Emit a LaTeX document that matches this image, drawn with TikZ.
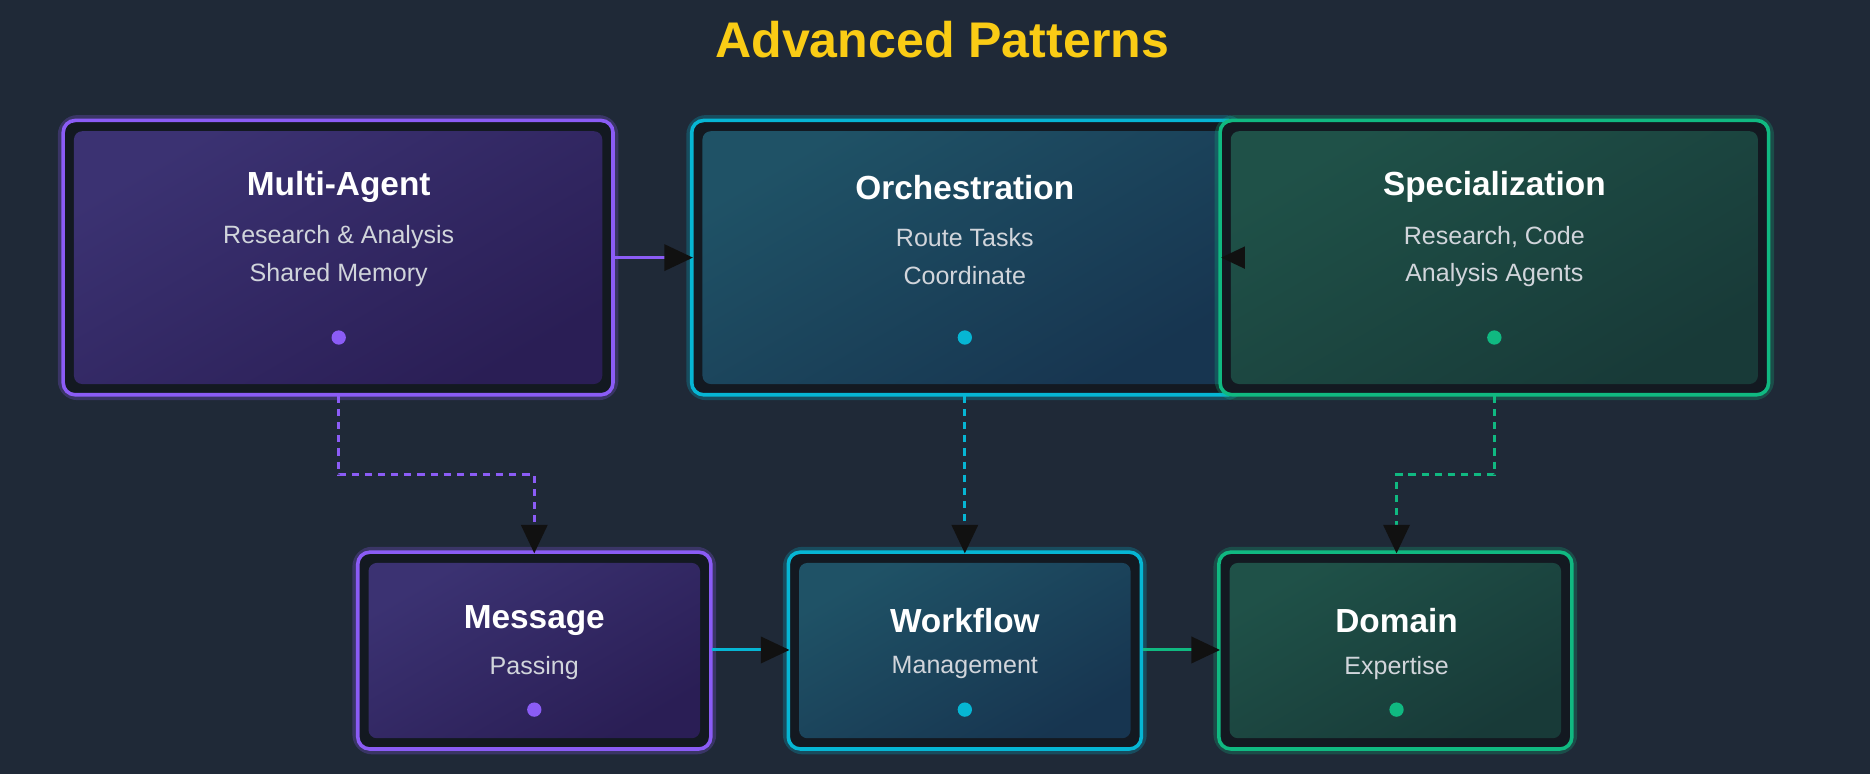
\documentclass[tikz,border=0pt]{standalone}
\usepackage{fontspec}
\setmainfont{Liberation Sans}
\usetikzlibrary{arrows.meta}
\definecolor{bg}{HTML}{1F2937}
\definecolor{ttl}{HTML}{FACC15}
\definecolor{pur}{HTML}{8B5CF6}
\definecolor{cya}{HTML}{06B6D4}
\definecolor{grn}{HTML}{10B981}
\definecolor{pA}{HTML}{3B3272}\definecolor{pB}{HTML}{2A1E55}
\definecolor{cA}{HTML}{1F5266}\definecolor{cB}{HTML}{173550}
\definecolor{gA}{HTML}{1F5148}\definecolor{gB}{HTML}{183A38}
\definecolor{txt}{HTML}{D1D5DB}
\definecolor{tip}{HTML}{111111}
\tikzset{
 box/.style n args={3}{draw=#1,line width=3pt,rounded corners=10pt,fill=bg!70!black,
   postaction={},},
 tt/.style={font=\bfseries\fontsize{28}{32}\selectfont,text=white},
 st/.style={font=\fontsize{21}{25}\selectfont,text=txt},
 ar/.style={line width=2.5pt,-{Triangle[length=24pt,width=22pt,fill=tip,color=tip]}},
 da/.style={ar,dash pattern=on 6pt off 5pt},
}
\newcommand\mybox[8]{% name x1 y1 x2 y2 border colA colB
 \draw[#6,opacity=0.25,line width=9pt,rounded corners=12pt] (#2,#3) rectangle (#4,#5);
 \path[rounded corners=10pt,fill=bg!60!black] (#2,#3) rectangle (#4,#5);
 \shade[rounded corners=7pt,top color=#7,bottom color=#8,shading angle=30] ($(#2,#3)+(9,9)$) rectangle ($(#4,#5)+(-9,-9)$);
 \draw[#6,line width=3pt,rounded corners=10pt] (#2,#3) rectangle (#4,#5);
 \coordinate (#1) at ({(#2+#4)/2},{(#3+#5)/2});
}
\usetikzlibrary{calc}
\begin{document}
\begin{tikzpicture}[x=1pt,y=-1pt]
\fill[bg] (0,0) rectangle (1568,649);
\useasboundingbox (0,0) rectangle (1568,649);
\node[font=\bfseries\fontsize{42}{46}\selectfont,text=ttl] (title) at (790,33) {Advanced Patterns};

\mybox{ma}{53}{101}{514}{331}{pur}{pA}{pB}
\mybox{or}{580}{101}{1040}{331}{cya}{cA}{cB}
\mybox{sp}{1023}{101}{1483}{331}{grn}{gA}{gB}
\mybox{me}{300}{463}{596}{628}{pur}{pA}{pB}
\mybox{wf}{661}{463}{957}{628}{cya}{cA}{cB}
\mybox{do}{1022}{463}{1318}{628}{grn}{gA}{gB}

\node[tt] (t1) at (284,157) {Multi-Agent};
\node[st] (s1a) at (284,199) {Research \& Analysis};
\node[st] (s1b) at (284,231) {Shared Memory};
\fill[pur] (284,283) circle (6);
\node[tt] (t2) at (809,157) {Orchestration};
\node[st] (s2a) at (809,199) {Route Tasks};
\node[st] (s2b) at (809,231) {Coordinate};
\fill[cya] (809,283) circle (6);
\node[tt] (t3) at (1253,157) {Specialization};
\node[st] (s3a) at (1253,199) {Research, Code};
\node[st] (s3b) at (1253,231) {Analysis Agents};
\fill[grn] (1253,283) circle (6);
\node[tt] (t4) at (448,520) {Message};
\node[st] (s4) at (448,560) {Passing};
\fill[pur] (448,595) circle (6);
\node[tt] (t5) at (809,520) {Workflow};
\node[st] (s5) at (809,560) {Management};
\fill[cya] (809,595) circle (6);
\node[tt] (t6) at (1171,520) {Domain};
\node[st] (s6) at (1171,560) {Expertise};
\fill[grn] (1171,595) circle (6);

\coordinate (a1) at (514,216); \coordinate (a2) at (581,216);
\draw[ar,pur] (a1) -- (a2);
\coordinate (b1) at (1046,216); \coordinate (b2) at (1021,216);
\draw[ar,grn,draw opacity=0] (b1) -- (b2);
\coordinate (c1) at (284,332); \coordinate (c2) at (448,464);
\draw[da,pur] (c1) |- (366,398) -| (c2);
\coordinate (d1) at (809,332); \coordinate (d2) at (809,464);
\draw[da,cya] (d1) -- (d2);
\coordinate (e1) at (1253,332); \coordinate (e2) at (1171,464);
\draw[da,grn] (e1) |- (1210,398) -| (e2);
\coordinate (f1) at (597,545); \coordinate (f2) at (662,545);
\draw[ar,cya] (f1) -- (f2);
\coordinate (g1) at (958,545); \coordinate (g2) at (1023,545);
\draw[ar,grn] (g1) -- (g2);
\end{tikzpicture}
\end{document}
